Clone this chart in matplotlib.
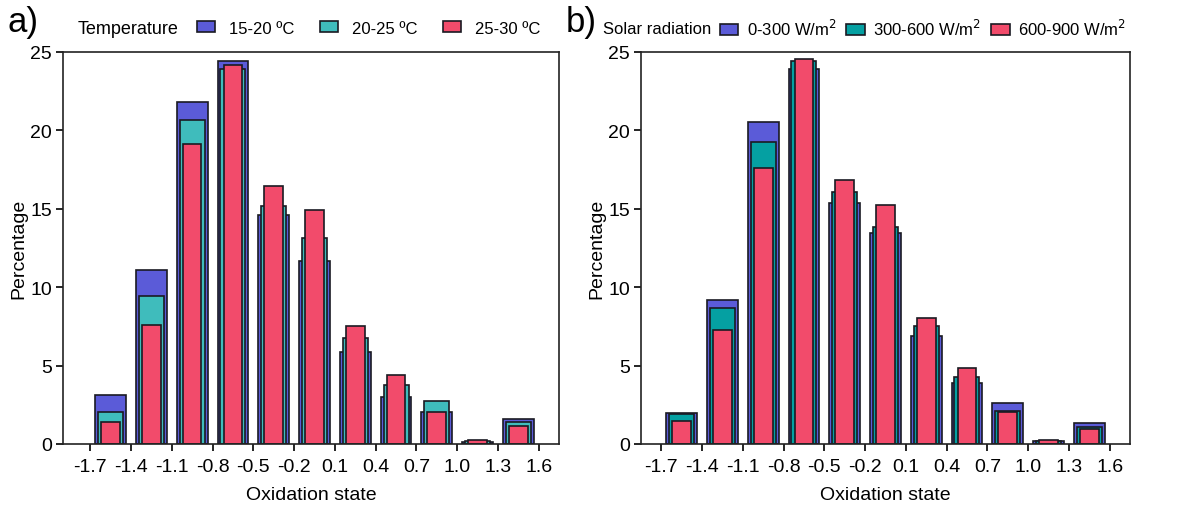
import numpy as np
import matplotlib.pyplot as plt
from matplotlib.patches import Patch

plt.rcParams['font.family'] = ['Liberation Sans', 'DejaVu Sans']

# ---------------- data (percentage per oxidation-state bin)
ticks = [-1.7, -1.4, -1.1, -0.8, -0.5, -0.2, 0.1, 0.4, 0.7, 1.0, 1.3, 1.6]

temp_labels = ['15-20 ºC', '20-25 ºC', '25-30 ºC']
temp_15_20 = [3.14, 11.12, 21.79, 24.40, 14.62, 11.65, 5.85, 2.98, 2.02, 0.10, 1.59]
temp_20_25 = [2.06, 9.46, 20.64, 23.90, 15.20, 13.14, 6.74, 3.76, 2.74, 0.17, 1.38]
temp_25_30 = [1.42, 7.59, 19.13, 24.17, 16.43, 14.94, 7.55, 4.42, 2.06, 0.26, 1.13]

solar_labels = ['0-300 W/m$^2$', '300-600 W/m$^2$', '600-900 W/m$^2$']
solar_0_300 = [1.96, 9.18, 20.56, 23.90, 15.35, 13.44, 6.87, 3.87, 2.61, 0.20, 1.34]
solar_300_600 = [1.90, 8.65, 19.29, 24.40, 16.05, 13.82, 7.55, 4.25, 2.10, 0.17, 1.06]
solar_600_900 = [1.49, 7.29, 17.60, 24.55, 16.86, 15.26, 8.02, 4.83, 2.05, 0.26, 0.96]

# ---------------- style
blue = '#5b5bd8'
teal_a = '#3fbcbc'
teal_b = '#05a0a2'
red = '#f24b6b'
edge = '#1a1a22'
widths = [0.226, 0.184, 0.137]

fig = plt.figure(figsize=(11.83, 5.10), dpi=100)
ax_a = fig.add_axes([0.0533, 0.1275, 0.4193, 0.7686])
ax_b = fig.add_axes([0.5418, 0.1275, 0.4134, 0.7686])

centers = [(ticks[i] + ticks[i + 1]) / 2 for i in range(len(ticks) - 1)]


def panel(ax, series, colors, xlim):
    for vals, c, w in zip(series, colors, widths):
        ax.bar(centers, vals, width=w, color=c, edgecolor=edge, linewidth=1.2)
    ax.set_xlim(*xlim)
    ax.set_ylim(0, 25)
    ax.set_xticks(ticks)
    ax.set_xticklabels([f'{t:.1f}' for t in ticks])
    ax.set_yticks(np.arange(0, 26, 5))
    ax.tick_params(direction='out', length=5, width=1.2, labelsize=14, pad=3)
    ax.tick_params(axis='x', pad=5)
    for s in ax.spines.values():
        s.set_linewidth(1.2)
        s.set_color('#222222')
    ax.set_xlabel('Oxidation state', fontsize=14, labelpad=8)
    ax.set_ylabel('Percentage', fontsize=14, labelpad=2)


panel(ax_a, [temp_15_20, temp_20_25, temp_25_30], [blue, teal_a, red], (-1.9, 1.75))
panel(ax_b, [solar_0_300, solar_300_600, solar_600_900], [blue, teal_b, red], (-1.85, 1.75))

# ---------------- panel letters and legends
fig.text(0.006, 0.955, 'a)', fontsize=25, va='center', ha='left')
fig.text(0.478, 0.955, 'b)', fontsize=25, va='center', ha='left')

fig.text(78 / 1183, 0.943, 'Temperature', fontsize=13, va='center', ha='left')
fig.text(603 / 1183, 0.943, 'Solar radiation', fontsize=12, va='center', ha='left')

h_a = [Patch(facecolor=c, edgecolor=edge, linewidth=1.2) for c in [blue, teal_a, red]]
h_b = [Patch(facecolor=c, edgecolor=edge, linewidth=1.2) for c in [blue, teal_b, red]]

fig.legend(h_a, temp_labels, loc='center left', bbox_to_anchor=(197 / 1183, 0.943),
           ncol=3, frameon=False, fontsize=12, borderpad=0, borderaxespad=0,
           handlelength=1.1, handleheight=0.6, handletextpad=0.8, columnspacing=1.55)
fig.legend(h_b, solar_labels, loc='center left', bbox_to_anchor=(720 / 1183, 0.943),
           ncol=3, frameon=False, fontsize=12, borderpad=0, borderaxespad=0,
           handlelength=1.1, handleheight=0.6, handletextpad=0.5, columnspacing=0.6)

fig.savefig('out.png', dpi=100)
